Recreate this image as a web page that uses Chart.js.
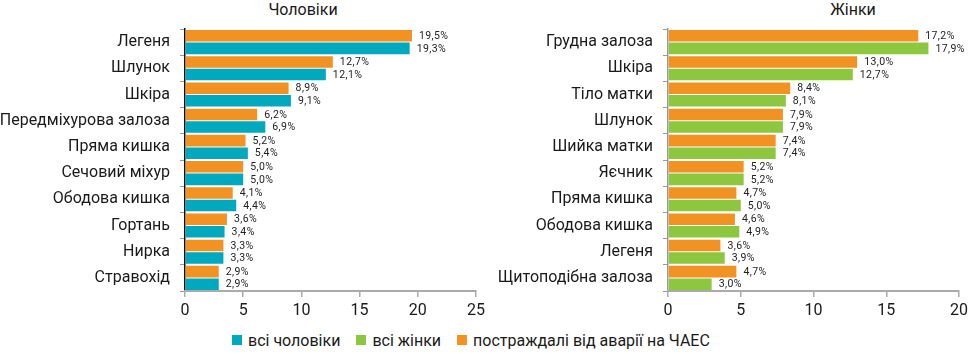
<!DOCTYPE html>
<html lang="uk">
<head>
    <meta charset="UTF-8">
    <title>Структура онкозахворюваності</title>
    <script src="https://cdn.jsdelivr.net/npm/chart.js"></script>
    <style>
        body { margin: 0; background: #fff; font-family: Roboto, sans-serif; color: #1a1a1a; }
        #wrap { position: relative; width: 980px; height: 354px; }
        .box { position: absolute; top: 0; height: 330px; }
        .title { position: absolute; top: 0; font-size: 16px; line-height: 20px; transform: translateX(-50%); white-space: nowrap; }
        #legend { position: absolute; left: 232px; top: 332px; display: flex; font-size: 16px; line-height: 18px; white-space: nowrap; }
        #legend span.sw { display: inline-block; width: 10px; height: 10px; margin: 0 6px 0 0; vertical-align: 1px; }
        #legend div { margin-right: 16px; }
    </style>
</head>
<body>
<div id="wrap">
    <div class="title" style="left:303px">Чоловіки</div>
    <div class="title" style="left:853px">Жінки</div>
    <div class="box" style="left:0;width:490px"><canvas id="menChart"></canvas></div>
    <div class="box" style="left:490px;width:490px"><canvas id="womenChart"></canvas></div>
    <div id="legend">
        <div><span class="sw" style="background:#00a9bd"></span>всі чоловіки</div>
        <div><span class="sw" style="background:#8dc63f"></span>всі жінки</div>
        <div><span class="sw" style="background:#f29222"></span>постраждалі від аварії на ЧАЕС</div>
    </div>
</div>
<script>
    const menLabels = ['Легеня', 'Шлунок', 'Шкіра', 'Передміхурова залоза', 'Пряма кишка', 'Сечовий міхур', 'Ободова кишка', 'Гортань', 'Нирка', 'Стравохід'];
    const menChaes = [19.5, 12.7, 8.9, 6.2, 5.2, 5.0, 4.1, 3.6, 3.3, 2.9];
    const menAll = [19.3, 12.1, 9.1, 6.9, 5.4, 5.0, 4.4, 3.4, 3.3, 2.9];

    const womenLabels = ['Грудна залоза', 'Шкіра', 'Тіло матки', 'Шлунок', 'Шийка матки', 'Яєчник', 'Пряма кишка', 'Ободова кишка', 'Легеня', 'Щитоподібна залоза'];
    const womenChaes = [17.2, 13.0, 8.4, 7.9, 7.4, 5.2, 4.7, 4.6, 3.6, 4.7];
    const womenAll = [17.9, 12.7, 8.1, 7.9, 7.4, 5.2, 5.0, 4.9, 3.9, 3.0];

    const menTicks = [0, 5, 10, 15, 20, 25];
    const womenTicks = [0, 5, 10, 15, 20];

    const ORANGE = '#f29222', CYAN = '#00a9bd', GREEN = '#8dc63f';

    // value labels to the right of each bar
    const valueLabels = {
        id: 'valueLabels',
        afterDatasetsDraw(chart) {
            const ctx = chart.ctx;
            ctx.save();
            ctx.font = '10.5px Roboto, sans-serif';
            ctx.letterSpacing = '0.4px';
            ctx.fillStyle = '#222';
            ctx.textBaseline = 'middle';
            chart.data.datasets.forEach((ds, i) => {
                chart.getDatasetMeta(i).data.forEach((bar, j) => {
                    const txt = ds.data[j].toFixed(1).replace('.', ',') + '%';
                    ctx.fillText(txt, bar.x + 7, bar.y + 0.5);
                });
            });
            ctx.restore();
        }
    };

    function makeChart(id, labels, chaes, all, color, ticks, yWidth, padRight, axisColor) {
        new Chart(document.getElementById(id), {
            type: 'bar',
            data: {
                labels: labels,
                datasets: [
                    { data: chaes, backgroundColor: ORANGE },
                    { data: all, backgroundColor: color }
                ]
            },
            options: {
                indexAxis: 'y',
                responsive: true,
                maintainAspectRatio: false,
                animation: false,
                datasets: { bar: { categoryPercentage: 0.96, barPercentage: 0.92 } },
                layout: { padding: { top: 29, right: padRight, left: 0, bottom: 0 } },
                plugins: { legend: { display: false }, tooltip: { enabled: false } },
                scales: {
                    y: {
                        grid: { offset: true, drawOnChartArea: false, tickLength: 5, color: '#999' },
                        border: { color: axisColor, width: 1.5 },
                        ticks: { padding: 10, color: '#1a1a1a', font: { family: 'Roboto', size: 16 } },
                        afterFit: s => { s.width = yWidth; }
                    },
                    x: {
                        min: 0,
                        max: ticks[ticks.length - 1],
                        afterBuildTicks: s => { s.ticks = ticks.map(v => ({ value: v })); },
                        grid: { drawOnChartArea: false, tickLength: 6, color: '#aaa', lineWidth: 1.5 },
                        border: { color: '#aaa', width: 2 },
                        ticks: { padding: 4, color: '#1a1a1a', font: { family: 'Roboto', size: 16 } },
                        afterFit: s => { s.height = 39; }
                    }
                }
            },
            plugins: [valueLabels]
        });
    }

    makeChart('menChart', menLabels, menChaes, menAll, CYAN, menTicks, 185, 14, '#111');
    makeChart('womenChart', womenLabels, womenChaes, womenAll, GREEN, womenTicks, 178, 21, '#999');
</script>
</body>
</html>
